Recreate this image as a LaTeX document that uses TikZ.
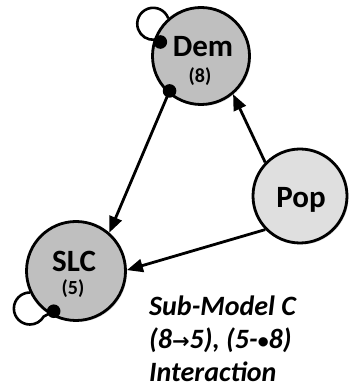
\documentclass[tikz,border=0pt]{standalone}
\usepackage{fontspec}
\setmainfont{Carlito}
\newfontfamily\symfont{DejaVu Sans}
\usetikzlibrary{arrows.meta,shadows,calc}
\definecolor{stategray}{RGB}{191,191,191}
\definecolor{popgray}{RGB}{223,223,223}
\begin{document}
\begin{tikzpicture}[x=1pt,y=1pt,
  state/.style={circle, draw=black, line width=2.8pt, inner sep=0pt,
    drop shadow={opacity=0.25, shadow xshift=1.5pt, shadow yshift=-1.5pt}},
  darkstate/.style={state, fill=stategray},
  lightstate/.style={state, fill=popgray},
  conn/.style={line width=2.8pt, -{Triangle[length=16pt,width=13pt]}},
  loopline/.style={line width=2.6pt},
  dotmark/.style={fill=black},
  lbl/.style={font=\bfseries\fontsize{31}{31}\selectfont, anchor=base, inner sep=0pt},
  sublbl/.style={font=\bfseries\fontsize{20}{20}\selectfont, anchor=base, inner sep=0pt},
  caption/.style={font=\bfseries\itshape\fontsize{28}{33}\selectfont, align=left, anchor=north west, inner sep=0pt}
]
\useasboundingbox (0,0) rectangle (348,390);
\node[darkstate, minimum size=97pt] (dem) at (201,334) {};
\node[darkstate, minimum size=99pt] (slc) at (76,119) {};
\node[lightstate, minimum size=94pt] (pop) at (300,194) {};

\coordinate (demdot) at ($(dem.center)+(161:43)$);
\coordinate (demdot2) at ($(dem.center)+(228:47)$);
\coordinate (slcdot) at ($(slc.center)+(241:46)$);

% self loops
\draw[loopline] (dem.131) arc[start angle=20, end angle=275, radius=16] -- (demdot);
\draw[loopline] (slc.205) arc[start angle=90, end angle=330, radius=16] -- (slcdot);

% connectors
\draw[conn] (demdot2) -- (slc.49);
\draw[conn] (pop.136) -- (dem.310);
\draw[conn] (pop.224) -- (slc.1);

% dots
\fill[dotmark] (demdot) circle (6.8);
\fill[dotmark] (demdot2) circle (6.8);
\fill[dotmark] (slcdot) circle (6.8);

% labels
\node[lbl] (demlbl) at (203,333) {Dem};
\node[sublbl] (demnum) at (200,307) {(8)};
\node[lbl] (slclbl) at (74,118) {SLC};
\node[sublbl] (slcnum) at (73,95) {(5)};
\node[lbl] (poplbl) at (301,182) {Pop};

\node[caption] (cap) at (149,94) {Sub-Model C\\(8{\symfont\fontsize{21}{21}\selectfont →}5), (5-{\fontsize{22}{22}\selectfont •}8)\\Interaction};
\end{tikzpicture}
\end{document}
